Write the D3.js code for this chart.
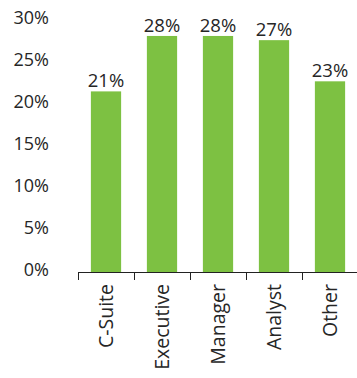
<!DOCTYPE html>
<html><head><meta charset="utf-8">
<script src="https://cdn.jsdelivr.net/npm/d3@7"></script>
<style>body{margin:0;background:#fff;} text{font-family:"Open Sans",sans-serif;fill:#262626;font-weight:400;}</style>
</head><body><svg id="c" width="357" height="378"></svg>
<script>
const categories = ["C-Suite","Executive","Manager","Analyst","Other"];
const values = [21.5, 28.1, 28.1, 27.6, 22.7];
const valueLabels = ["21%","28%","28%","27%","23%"];
const yTicks = [0,5,10,15,20,25,30];

const svg = d3.select("#c");
const x = d3.scaleBand().domain(categories).range([78,358]).paddingInner(0.46).paddingOuter(0.23);
const y = d3.scaleLinear().domain([0,30]).range([272,20]);

svg.selectAll("rect.bar").data(values).join("rect").attr("class","bar")
  .attr("x",(d,i)=>x(categories[i])).attr("width",x.bandwidth())
  .attr("y",d=>y(d)).attr("height",d=>y(0)-y(d)).attr("fill","#7dc142");

svg.selectAll("text.vl").data(values).join("text").attr("class","vl")
  .attr("x",(d,i)=>x(categories[i])+x.bandwidth()/2).attr("y",d=>y(d)-4)
  .attr("text-anchor","middle").attr("font-size",18.5).text((d,i)=>valueLabels[i]);

svg.selectAll("text.yt").data(yTicks).join("text").attr("class","yt")
  .attr("x",49).attr("y",d=>y(d)+4).attr("text-anchor","end").attr("font-size",18).text(d=>d+"%");

const step = x.step();
const edges = d3.range(categories.length).map(i=>78+i*step);
svg.append("line").attr("x1",78).attr("x2",357).attr("y1",272.5).attr("y2",272.5).attr("stroke","#222");
svg.selectAll("line.tk").data(edges).join("line").attr("class","tk")
  .attr("x1",d=>d+0.5).attr("x2",d=>d+0.5).attr("y1",272).attr("y2",280).attr("stroke","#222");

svg.selectAll("text.cat").data(categories).join("text").attr("class","cat")
  .attr("transform",d=>`translate(${x(d)+x.bandwidth()/2+7},284) rotate(-90)`)
  .attr("text-anchor","end").attr("font-size",19.5).text(d=>d);
</script></body></html>
